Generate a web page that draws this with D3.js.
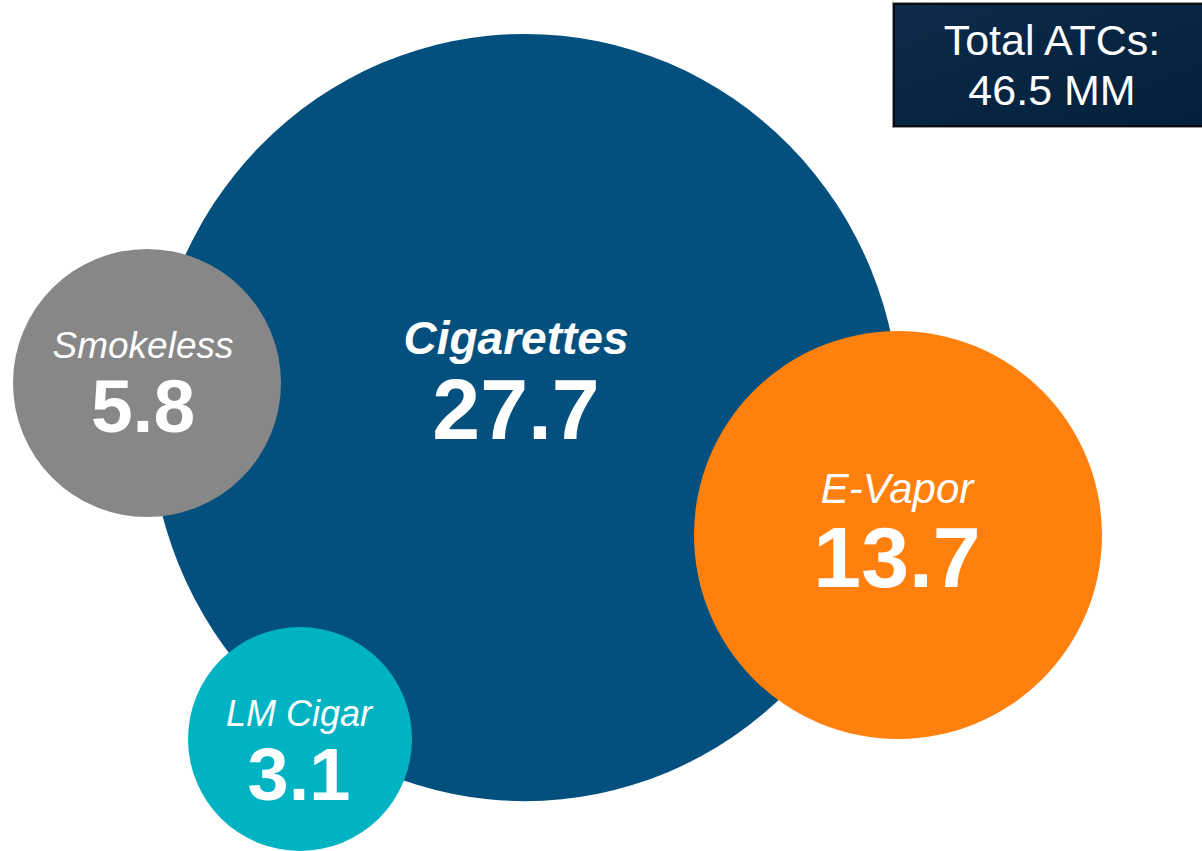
<!DOCTYPE html>
<html>
<head>
<meta charset="utf-8">
<script src="https://cdn.jsdelivr.net/npm/d3@7/dist/d3.min.js"></script>
<style>
  html, body { margin: 0; padding: 0; background: #ffffff; }
  svg { display: block; }
  text { font-family: "Liberation Sans", Arial, sans-serif; fill: #ffffff; }
</style>
</head>
<body>
<svg id="chart" width="1202" height="851"></svg>
<script>
// Adult tobacco consumers (millions) by category
const categories = ["Cigarettes", "Smokeless", "E-Vapor", "LM Cigar"];
const values = [27.7, 5.8, 13.7, 3.1];
const totalLabel = ["Total ATCs:", "46.5 MM"];

// Bubble placement (hand-arranged cluster) and styling
const layout = [
  { cx: 525, cy: 417.5, r: 375, stretchY: 1.023, labelDx: -9, labelDy: -64, valueDy: 21, labelSize: 46, valueSize: 86, labelWeight: "bold", fill: "#03507e" },
  { cx: 147, cy: 383, r: 134, stretchY: 1, labelDx: -4, labelDy: -25, valueDy: 49, labelSize: 37, valueSize: 75, labelWeight: "normal", fill: "#878787" },
  { cx: 898, cy: 535, r: 204, stretchY: 1, labelDx: -1, labelDy: -32, valueDy: 52, labelSize: 42, valueSize: 86, labelWeight: "normal", fill: "#ff800d" },
  { cx: 300, cy: 739, r: 112, stretchY: 1, labelDx: -1, labelDy: -13, valueDy: 61, labelSize: 36, valueSize: 74, labelWeight: "normal", fill: "#00b3c2" }
];

const bubbles = categories.map((c, i) => ({ name: c, value: values[i], ...layout[i] }));

const svg = d3.select("#chart");
const fmt = d3.format(".1f");

const g = svg.selectAll("g.bubble")
  .data(bubbles)
  .join("g")
  .attr("class", "bubble")
  .attr("transform", d => `translate(${d.cx},${d.cy})`);

g.append("ellipse")
  .attr("rx", d => d.r)
  .attr("ry", d => d.r * d.stretchY)
  .attr("fill", d => d.fill);

g.append("text")
  .attr("x", d => d.labelDx)
  .attr("y", d => d.labelDy)
  .attr("text-anchor", "middle")
  .attr("font-style", "italic")
  .attr("font-weight", d => d.labelWeight)
  .attr("font-size", d => d.labelSize)
  .text(d => d.name);

g.append("text")
  .attr("x", d => d.labelDx)
  .attr("y", d => d.valueDy)
  .attr("text-anchor", "middle")
  .attr("font-weight", "bold")
  .attr("font-size", d => d.valueSize)
  .text(d => fmt(d.value));

// Total callout box in the top-right corner
const defs = svg.append("defs");
const grad = defs.append("linearGradient")
  .attr("id", "boxFill")
  .attr("x1", "0%").attr("y1", "0%")
  .attr("x2", "100%").attr("y2", "100%");
grad.append("stop").attr("offset", "0%").attr("stop-color", "#0c2b4a");
grad.append("stop").attr("offset", "100%").attr("stop-color", "#02203a");

const box = svg.append("g").attr("class", "total");
box.append("rect")
  .attr("x", 892).attr("y", 2)
  .attr("width", 320).attr("height", 126)
  .attr("fill", "#9a9a9a");
box.append("rect")
  .attr("x", 894).attr("y", 4)
  .attr("width", 320).attr("height", 122)
  .attr("fill", "url(#boxFill)")
  .attr("stroke", "#050b12")
  .attr("stroke-width", 2);

box.selectAll("text")
  .data(totalLabel)
  .join("text")
  .attr("x", 1052)
  .attr("y", (d, i) => 55 + i * 50)
  .attr("text-anchor", "middle")
  .attr("font-size", 43)
  .text(d => d);
</script>
</body>
</html>
